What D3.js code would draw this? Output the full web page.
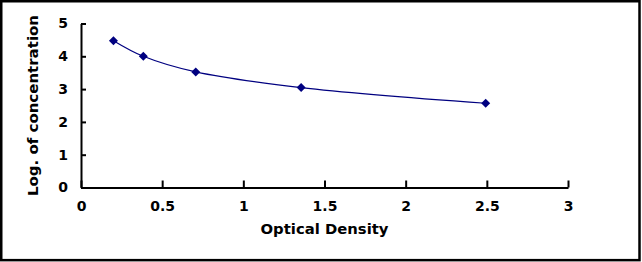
<!DOCTYPE html>
<html>
<head>
<meta charset="utf-8">
<script src="https://cdn.jsdelivr.net/npm/d3@7"></script>
<style>
  body { margin: 0; background: #fff; }
  svg text { font-family: "DejaVu Sans", Verdana, sans-serif; font-weight: bold; fill: #000; }
</style>
</head>
<body>
<svg id="chart"></svg>
<script>
// Standard curve points (optical density vs log concentration)
const odValues = [0.2, 0.384, 0.707, 1.356, 2.493];
const logConc = [4.477, 4.0, 3.523, 3.046, 2.568];
const xTicks = [0, 0.5, 1, 1.5, 2, 2.5, 3];
const yTicks = [0, 1, 2, 3, 4, 5];

const width = 642, height = 262;
const margin = { top: 23.5, right: 74, bottom: 74.5, left: 81 };
const innerW = width - margin.left - margin.right;
const innerH = height - margin.top - margin.bottom;
const fontFamily = '"DejaVu Sans", Verdana, sans-serif';

const svg = d3.select('#chart')
  .attr('width', width)
  .attr('height', height);

// outer frame
svg.append('rect')
  .attr('x', 1.25).attr('y', 1.25)
  .attr('width', 638.25).attr('height', 258.9)
  .attr('fill', 'none')
  .attr('stroke', '#000')
  .attr('stroke-width', 2.5);

const chart = svg.append('g')
  .attr('transform', `translate(${margin.left},${margin.top})`);

const xScale = d3.scaleLinear().domain([0, 3]).range([0, innerW]);
const yScale = d3.scaleLinear().domain([0, 5]).range([innerH, 0]);

// axes, ticks point inward like the original
const xAxis = d3.axisBottom(xScale).tickValues(xTicks)
  .tickSizeInner(-7).tickSizeOuter(0).tickPadding(13)
  .tickFormat(d => d);
const yAxis = d3.axisLeft(yScale).tickValues(yTicks)
  .tickSizeInner(-5).tickSizeOuter(0).tickPadding(13)
  .tickFormat(d => d);

const xAxisG = chart.append('g')
  .attr('transform', `translate(0,${innerH})`)
  .call(xAxis);
const yAxisG = chart.append('g').call(yAxis);

[xAxisG, yAxisG].forEach(g => {
  g.select('.domain').attr('stroke', '#000').attr('stroke-width', 2);
  g.selectAll('.tick line').attr('stroke', '#000').attr('stroke-width', 2);
  g.selectAll('.tick text')
    .attr('font-family', fontFamily)
    .attr('font-weight', 'bold')
    .attr('font-size', 14)
    .attr('fill', '#000');
});
xAxisG.selectAll('.tick text').attr('dy', '0.72em');

// axis labels
chart.append('text')
  .attr('x', innerW / 2)
  .attr('y', innerH + 46)
  .attr('text-anchor', 'middle')
  .attr('font-size', 14)
  .attr('textLength', 128)
  .attr('lengthAdjust', 'spacingAndGlyphs')
  .text('Optical Density');

chart.append('text')
  .attr('transform', 'rotate(-90)')
  .attr('x', -innerH / 2)
  .attr('y', -43.5)
  .attr('text-anchor', 'middle')
  .attr('font-size', 14)
  .attr('textLength', 181)
  .attr('lengthAdjust', 'spacingAndGlyphs')
  .text('Log. of concentration');

// smooth fitted line
const points = odValues.map((v, i) => [v, logConc[i]]);
const line = d3.line()
  .x(d => xScale(d[0]))
  .y(d => yScale(d[1]))
  .curve(d3.curveCatmullRom.alpha(0.5));

chart.append('path')
  .datum(points)
  .attr('fill', 'none')
  .attr('stroke', '#000080')
  .attr('stroke-width', 1.2)
  .attr('d', line);

// diamond markers
chart.selectAll('.marker')
  .data(points)
  .join('path')
  .attr('class', 'marker')
  .attr('transform', d => `translate(${xScale(d[0])},${yScale(d[1])})`)
  .attr('d', 'M0,-4.5L4.5,0L0,4.5L-4.5,0Z')
  .attr('fill', '#000080');
</script>
</body>
</html>
